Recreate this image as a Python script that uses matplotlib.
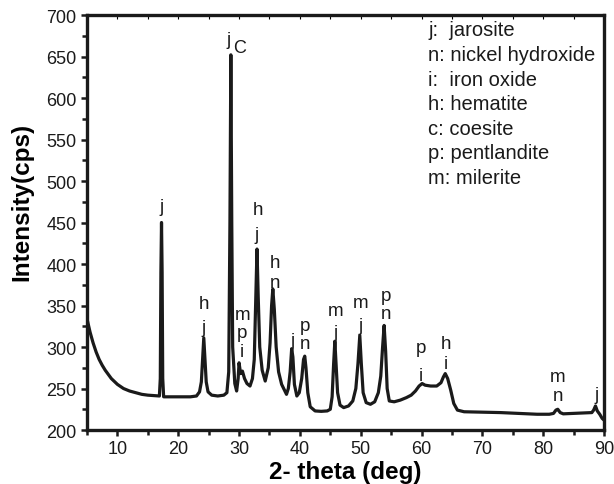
import matplotlib
matplotlib.use("Agg")
import matplotlib.pyplot as plt
from matplotlib.ticker import MultipleLocator

plt.rcParams['font.family'] = ['Liberation Sans', 'DejaVu Sans']

# XRD pattern: 2-theta (deg) and intensity (cps)
two_theta = [5.0, 5.5, 6.0, 6.5, 7.0, 7.5, 8.0, 9.0, 10.0, 11.0, 12.0, 13.0, 14.0,
             15.0, 16.0, 16.9, 17.05, 17.15, 17.25, 17.35, 17.45, 17.6, 18.5, 20.0,
             22.0, 23.0, 23.5, 23.8, 24.0, 24.2, 24.4, 24.6, 24.9, 25.5, 26.5, 27.5,
             28.0, 28.3, 28.5, 28.65, 28.8, 28.95, 29.3, 29.6, 29.85, 30.0, 30.25,
             30.55, 30.9, 31.3, 31.8, 32.2, 32.5, 32.75, 32.95, 33.15, 33.4, 33.8,
             34.3, 34.8, 35.1, 35.35, 35.55, 35.8, 36.1, 36.5, 37.0, 37.8, 38.1,
             38.4, 38.65, 38.85, 39.1, 39.5, 39.9, 40.3, 40.6, 40.8, 41.0, 41.3,
             41.7, 42.5, 43.5, 44.5, 45.0, 45.3, 45.55, 45.75, 45.95, 46.2, 46.6,
             47.2, 48.0, 48.7, 49.2, 49.55, 49.85, 50.1, 50.4, 50.9, 51.6, 52.3,
             52.9, 53.3, 53.6, 53.85, 54.1, 54.35, 54.7, 55.5, 56.5, 57.5, 58.3,
             59.0, 59.6, 60.1, 60.6, 61.5, 62.5, 63.2, 63.6, 63.9, 64.3, 64.8,
             65.3, 65.9, 67.0, 70.0, 73.0, 76.0, 79.0, 81.0, 81.7, 82.1, 82.4,
             82.8, 83.3, 85.0, 87.0, 88.0, 88.3, 88.6, 88.9, 89.3, 89.7, 90.0]
intensity = [334, 318, 305, 294, 285, 278, 272, 262, 255, 250, 247, 245, 243,
             242, 241.5, 241, 262, 390, 450, 390, 262, 240, 240, 240,
             240, 241, 246, 258, 285, 311, 285, 258, 246, 242, 241, 242,
             245, 270, 450, 652, 450, 300, 256, 247, 262, 281, 268,
             271, 262, 256, 253, 262, 285, 360, 418, 360, 300, 272,
             259, 275, 305, 350, 370, 345, 300, 270, 255, 243, 250,
             270, 298, 288, 255, 241, 245, 262, 285, 289, 275, 245,
             228, 223, 222.5, 223, 225, 240, 280, 307, 280, 245, 230,
             227, 229, 235, 250, 280, 314, 280, 245, 233, 231, 234,
             245, 265, 300, 326, 295, 250, 235, 234, 236, 239, 242,
             247, 253, 256, 254, 253, 253, 257, 264, 268, 262, 248,
             232, 224, 222, 221.5, 221, 220, 219, 219, 220, 224, 225,
             221, 219.5, 220, 220.5, 221, 224, 229, 223, 219, 214, 212]

# phase letters above the peaks: (2-theta, intensity, letter)
peak_labels = [
    (17.3, 469, 'j'),
    (24.2, 353, 'h'), (24.2, 324, 'j'),
    (28.3, 671, 'j'),
    (30.6, 339, 'm'), (30.4, 318, 'p'), (30.4, 294, 'i'),
    (33.1, 466, 'h'), (32.9, 436, 'j'),
    (35.9, 402, 'h'), (35.9, 378, 'n'),
    (38.8, 308, 'j'),
    (40.8, 326, 'p'), (40.8, 304, 'n'),
    (45.8, 344, 'm'), (45.8, 318, 'j'),
    (50.0, 354, 'm'), (50.0, 326, 'j'),
    (54.1, 362, 'p'), (54.1, 340, 'n'),
    (59.9, 300, 'p'), (59.9, 266, 'i'),
    (64.0, 304, 'h'), (64.0, 280, 'i'),
    (82.4, 265, 'm'), (82.4, 241, 'n'),
    (88.8, 243, 'j'),
]

legend_lines = ['j:  jarosite', 'n: nickel hydroxide', 'i:  iron oxide',
                'h: hematite', 'c: coesite', 'p: pentlandite', 'm: milerite']

fig = plt.figure(figsize=(6.14, 4.85), dpi=100)
ax = fig.add_axes([0.1417, 0.1113, 0.842, 0.8557])

ax.plot(two_theta, intensity, color='#1a1a1a', lw=2.3, solid_joinstyle='round')

for x, y, s in peak_labels:
    ax.text(x, y, s, ha='center', va='center', fontsize=13.5, color='#1a1a1a')
# the "c" next to the tallest peak
ax.text(30.1, 661, 'C', ha='center', va='center', fontsize=13, color='#1a1a1a')

for i, line in enumerate(legend_lines):
    ax.text(0.66, 0.964 - i * 0.0593, line, transform=ax.transAxes,
            ha='left', va='center', fontsize=14.5, color='#1a1a1a')

ax.set_xlim(5, 90)
ax.set_ylim(200, 700)
ax.xaxis.set_major_locator(MultipleLocator(10))
ax.xaxis.set_minor_locator(MultipleLocator(5))
ax.yaxis.set_major_locator(MultipleLocator(50))
ax.yaxis.set_minor_locator(MultipleLocator(25))
ax.set_xticks(range(10, 91, 10))

ax.tick_params(which='both', direction='out', width=1.8, labelsize=13,
               colors='#1a1a1a', pad=3)
ax.tick_params(which='major', length=4.5)
ax.tick_params(which='minor', length=3.5)

top = ax.secondary_xaxis('top')
top.xaxis.set_major_locator(MultipleLocator(5))
top.tick_params(direction='in', length=3, width=0.8, labeltop=False)
top.spines['top'].set_visible(False)

for sp in ax.spines.values():
    sp.set_linewidth(2.4)
    sp.set_color('#1a1a1a')

ax.set_xlabel('2- theta (deg)', fontsize=17.5, fontweight='bold', labelpad=2)
ax.set_ylabel('Intensity(cps)', fontsize=17.5, fontweight='bold')
ax.yaxis.set_label_coords(-0.104, 0.552)

fig.savefig('out.png', dpi=100)
